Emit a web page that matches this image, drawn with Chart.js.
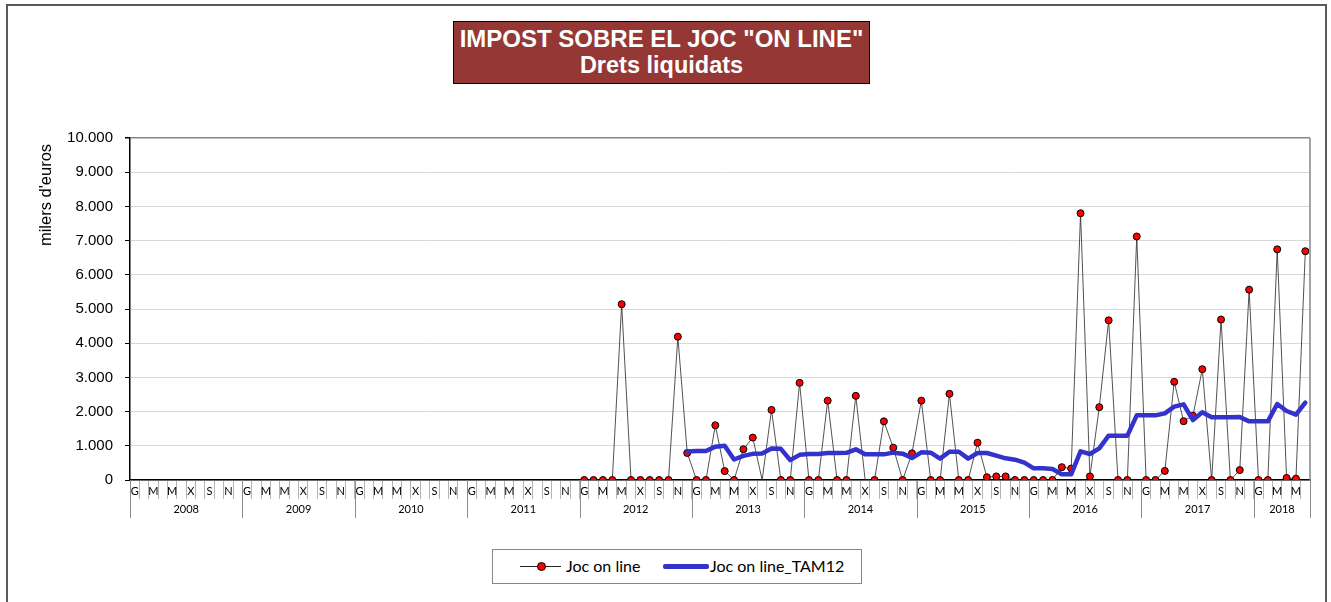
<!DOCTYPE html>
<html>
<head>
<meta charset="utf-8">
<title>Impost sobre el joc on line</title>
<script src="https://cdn.jsdelivr.net/npm/chart.js@4.4.0/dist/chart.umd.min.js"></script>
<style>
  html, body { margin: 0; padding: 0; background: #fff; }
  #wrap { position: relative; width: 1331px; height: 602px; overflow: hidden; }
  #frame { position: absolute; left: 6px; top: 4px; width: 1321px; height: 660px; border: 2px solid #5a5a5a; box-sizing: border-box; }
  #chartBox { position: absolute; left: 0; top: 0; width: 1331px; height: 602px; }
  #title {
    position: absolute; left: 453px; top: 21px; width: 417px; height: 63px;
    background: #953735; border: 1px solid #000; box-sizing: border-box;
    color: #fff; font-family: "Liberation Sans", Arial, sans-serif; font-weight: bold; text-align: center;
  }
  #title .l1 { font-size: 24px; line-height: 26px; margin-top: 4px; }
  #title .l2 { font-size: 23.5px; line-height: 26px; }
  #yTitle {
    position: absolute; left: -30px; top: 184px; width: 150px; height: 22px; line-height: 22px;
    text-align: center; transform: rotate(-90deg);
    font-family: "Liberation Sans", Arial, sans-serif; font-size: 16.5px; color: #000;
  }
  #legend {
    position: absolute; left: 492px; top: 549px; width: 370px; height: 35px;
    border: 1px solid #868686; box-sizing: border-box; background: #fff;
    font-family: Lato, "Liberation Sans", sans-serif; font-size: 16px; color: #000;
  }
  #legend .txt { position: absolute; top: 5px; line-height: 22px; white-space: nowrap; }
  #legend .thin { position: absolute; left: 27px; top: 16px; width: 41px; height: 1px; background: #262626; }
  #legend .dot { position: absolute; left: 44px; top: 12px; width: 7px; height: 7px; border-radius: 50%; background: #f00; border: 1px solid #000; }
  #legend .thick { position: absolute; left: 170px; top: 14px; width: 46px; height: 5px; border-radius: 2px; background: #3333cc; }
</style>
</head>
<body>
<div id="wrap">
  <div id="frame"></div>
  <div id="chartBox"><canvas id="jocChart"></canvas></div>
  <div id="title"><div class="l1">IMPOST SOBRE EL JOC "ON LINE"</div><div class="l2">Drets liquidats</div></div>
  <div id="yTitle">milers d'euros</div>
  <div id="legend">
    <span class="thin"></span><span class="dot"></span>
    <span class="txt" style="left:73px">Joc on line</span>
    <span class="thick"></span>
    <span class="txt" style="left:217px">Joc on line_TAM12</span>
  </div>
</div>
<script>
// anys i mesos (gen 2008 - jun 2018)
const years = [2008, 2009, 2010, 2011, 2012, 2013, 2014, 2015, 2016, 2017, 2018];
const monthNames = ["gen", "feb", "mar", "abr", "mai", "jun", "jul", "ago", "set", "oct", "nov", "des"];
const monthTicks = ["G", "", "M", "", "M", "", "X", "", "S", "", "N", ""];
const monthsIn2018 = 6;

// Joc on line (milers d'euros)
const joc2008to2011 = [
  null, null, null, null, null, null, null, null, null, null, null, null,
  null, null, null, null, null, null, null, null, null, null, null, null,
  null, null, null, null, null, null, null, null, null, null, null, null,
  null, null, null, null, null, null, null, null, null, null, null, null
];
const joc2012 = [0, 0, 0, 0, 5140, 0, 0, 0, 0, 0, 4190, 790];
const joc2013 = [0, 0, 1600, 260, 0, 900, 1240, 0, 2050, 0, 0, 2840];
const joc2014 = [0, 0, 2320, 0, 0, 2460, 0, 0, 1715, 945, 0, 780];
const joc2015 = [2320, 0, 0, 2520, 0, 0, 1090, 80, 105, 105, 0, 0];
const joc2016 = [0, 0, 0, 375, 335, 7800, 105, 2130, 4670, 0, 0, 7120];
const joc2017 = [0, 0, 265, 2870, 1720, 1880, 3240, 0, 4690, 0, 290, 5565];
const joc2018 = [0, 0, 6745, 60, 40, 6690];

// Joc on line_TAM12
const tam2008to2011 = joc2008to2011;
const tam2012 = [null, null, null, null, null, null, null, null, null, null, null, 830];
const tam2013 = [848, 850, 975, 1000, 600, 705, 765, 775, 920, 912, 580, 735];
const tam2014 = [758, 760, 790, 790, 795, 897, 750, 750, 750, 800, 770, 643];
const tam2015 = [809, 800, 624, 828, 828, 624, 789, 789, 711, 634, 595, 507];
const tam2016 = [341, 341, 322, 166, 166, 838, 760, 926, 1296, 1296, 1296, 1891];
const tam2017 = [1891, 1891, 1949, 2144, 2212, 1754, 1978, 1832, 1832, 1832, 1842, 1715];
const tam2018 = [1715, 1715, 2222, 2017, 1910, 2261];

// mesos sense marcador al gràfic original (ago 2013, jul 2014)
const noMarker = ["ago 2013", "jul 2014"];

const categories = [];
years.forEach((y) => {
  const n = y === 2018 ? monthsIn2018 : 12;
  for (let m = 0; m < n; m++) categories.push(monthNames[m] + " " + y);
});

const jocOnLine = [...joc2008to2011, ...joc2012, ...joc2013, ...joc2014, ...joc2015, ...joc2016, ...joc2017, ...joc2018];
const jocTam12 = [...tam2008to2011, ...tam2012, ...tam2013, ...tam2014, ...tam2015, ...tam2016, ...tam2017, ...tam2018];

function milers(v) {
  return String(v).replace(/\B(?=(\d{3})+(?!\d))/g, ".");
}

// fila dels anys sota l'eix X + vora dreta de l'àrea
const yearAxis = {
  id: "yearAxis",
  afterDraw(chart) {
    const x = chart.scales.x;
    const ctx = chart.ctx;
    const step = x.getPixelForValue(1) - x.getPixelForValue(0);
    const top = x.top;
    ctx.save();
    ctx.strokeStyle = "#8c8c8c";
    ctx.lineWidth = 1;
    ctx.fillStyle = "#000";
    ctx.font = "11px Lato";
    ctx.textAlign = "center";
    ctx.textBaseline = "middle";
    let idx = 0;
    years.forEach((y, k) => {
      const n = y === 2018 ? monthsIn2018 : 12;
      const x0 = x.getPixelForValue(idx) - step / 2;
      const x1 = x.getPixelForValue(idx + n - 1) + step / 2;
      ctx.beginPath();
      ctx.moveTo(Math.round(x0) + 0.5, top);
      ctx.lineTo(Math.round(x0) + 0.5, top + 38);
      if (k === years.length - 1) {
        ctx.moveTo(Math.round(x1) + 0.5, top);
        ctx.lineTo(Math.round(x1) + 0.5, top + 38);
      }
      ctx.stroke();
      ctx.fillText(String(y), (x0 + x1) / 2, top + 29);
      idx += n;
    });
    const a = chart.chartArea;
    ctx.strokeStyle = "#868686";
    ctx.lineWidth = 1.5;
    ctx.beginPath();
    ctx.moveTo(a.right, a.top);
    ctx.lineTo(a.right, a.bottom);
    ctx.stroke();
    ctx.restore();
  },
};

const canvas = document.getElementById("jocChart");

new Chart(canvas, {
  type: "line",
  data: {
    labels: categories,
    datasets: [
      {
        label: "Joc on line_TAM12",
        data: jocTam12,
        borderColor: "#3333cc",
        backgroundColor: "#3333cc",
        borderWidth: 4.5,
        borderJoinStyle: "round",
        borderCapStyle: "round",
        pointRadius: 0,
        tension: 0,
        order: 1,
      },
      {
        label: "Joc on line",
        data: jocOnLine,
        borderColor: "#262626",
        borderWidth: 0.8,
        pointRadius: (c) => (noMarker.includes(categories[c.dataIndex]) ? 0 : 3.5),
        pointBackgroundColor: "#ff0000",
        pointBorderColor: "#000",
        pointBorderWidth: 1,
        tension: 0,
        order: 2,
      },
    ],
  },
  options: {
    responsive: true,
    maintainAspectRatio: false,
    animation: false,
    layout: { padding: { left: 0, top: 138, right: 21, bottom: 82 } },
    plugins: {
      legend: { display: false },
      title: { display: false },
      tooltip: { enabled: false },
    },
    scales: {
      x: {
        offset: true,
        grid: {
          offset: true,
          drawOnChartArea: false,
          tickLength: 19,
          color: "#b4b4b4",
          tickColor: "#b4b4b4",
        },
        border: { color: "#000", width: 1.5 },
        ticks: {
          autoSkip: false,
          maxRotation: 0,
          minRotation: 0,
          padding: -14,
          color: "#000",
          font: { family: "Lato", size: 11 },
          callback: (v, i) => monthTicks[i % 12],
        },
        afterFit: (s) => {
          s.height = 40;
        },
      },
      y: {
        min: 0,
        max: 10000,
        ticks: {
          stepSize: 1000,
          padding: 12,
          color: "#000",
          font: { family: "Liberation Sans", size: 15 },
          callback: (v) => milers(v),
        },
        grid: {
          color: (c) => (c.tick && c.tick.value === 10000 ? "#868686" : "#d9d9d9"),
          lineWidth: (c) => (c.tick && c.tick.value === 10000 ? 1.5 : 1),
          tickLength: 5,
          tickColor: "#000",
        },
        border: { color: "#000", width: 1.5 },
        afterFit: (s) => {
          s.width = 130;
        },
      },
    },
  },
  plugins: [yearAxis],
});
</script>
</body>
</html>
